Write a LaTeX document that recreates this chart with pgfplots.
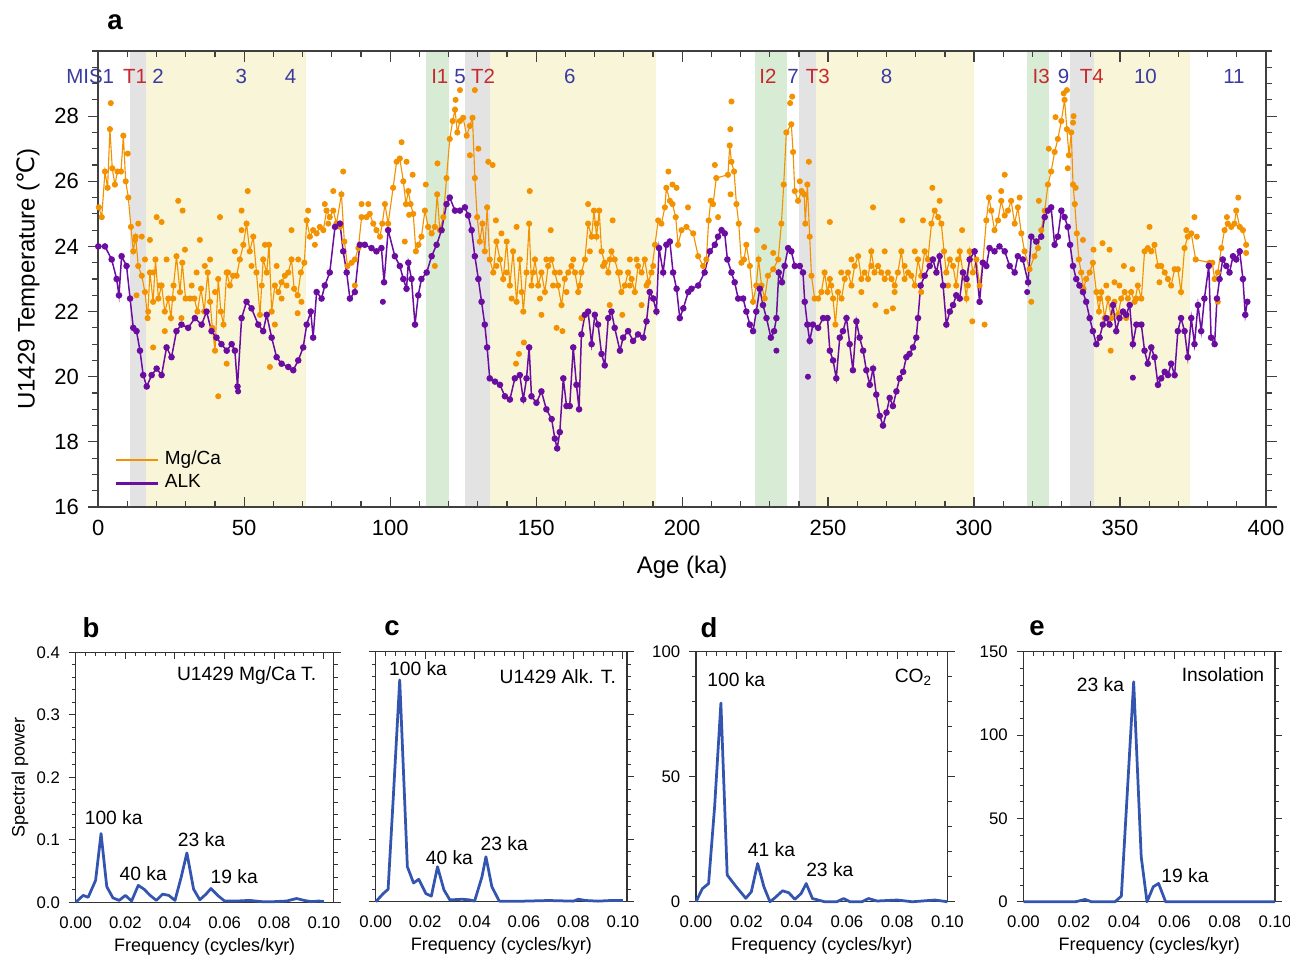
\documentclass[border=0pt]{standalone}
\usepackage{fontspec}
\setmainfont{Liberation Sans}
\newfontfamily\dejavu{DejaVu Sans}
\usepackage{pgfplots}
\pgfplotsset{compat=1.18}

\definecolor{mgca}{RGB}{243,146,0}
\definecolor{alk}{RGB}{106,13,160}
\definecolor{bandY}{RGB}{248,245,217}
\definecolor{bandG}{RGB}{216,236,213}
\definecolor{bandT}{RGB}{227,227,227}
\definecolor{misblue}{RGB}{58,58,160}
\definecolor{misred}{RGB}{200,40,45}
\definecolor{spec}{RGB}{51,85,176}
\newcommand\fs[1]{\fontsize{#1}{#1}\selectfont}

\tikzset{ann/.style={font=\fs{7.7}, inner sep=0pt}}
\pgfplotsset{
  specaxis/.style={
    scale only axis, height=100pt, anchor=south west,
    xtick={0,0.02,0.04,0.06,0.08,0.1}, minor x tick num=4,
    xtick pos=right, xticklabel pos=left, xtick align=inside,
    ytick pos=both, yticklabel pos=left, ytick align=outside, minor y tick num=4,
    major tick length=2.8pt, minor tick length=1.6pt,
    tick style={black!80, line width=0.4pt},
    axis line style={black!80, line width=0.5pt},
    xticklabel style={font=\fs{6.7}, inner ysep=5.6pt},
    /pgf/number format/.cd, fixed, fixed zerofill, precision=2, assume math mode=true,
    /pgfplots/.cd,
    yticklabel style={font=\fs{6.7}},
    xlabel={Frequency (cycles/kyr)},
    xlabel style={font=\fs{7.2}, at={(axis description cs:0.5,0)}, anchor=center, yshift=-17.8pt},
    clip=false,
  },
  specline/.style={spec, line width=1.1pt, line join=round},
}

\begin{document}
\begin{tikzpicture}
\useasboundingbox (0,0) rectangle (516pt,-382.8pt);

% ---------------- panel a
\begin{axis}[
  at={(39.3pt,-202.8pt)}, anchor=south west,
  scale only axis, width=467.1pt, height=182.4pt,
  xmin=0, xmax=400, ymin=16, ymax=30,
  xtick={0,50,...,400}, minor xtick={0,10,...,400},
  ytick={16,18,...,28}, minor ytick={16,16.5,...,30},
  xtick align=inside, ytick align=outside,
  xtick pos=both, ytick pos=both, xticklabel pos=left, yticklabel pos=left,
  major tick length=4.2pt, minor tick length=2.4pt,
  tick style={black!75, line width=0.5pt},
  axis line style={black!75, line width=0.6pt},
  tick label style={font=\fs{8.8}},
  xticklabel style={yshift=-1.8pt},
  /pgf/number format/assume math mode=true,
  xlabel={Age (ka)}, ylabel={U1429 Temperature ({\dejavu ℃})},
  label style={font=\fs{9.6}},
  xlabel style={at={(axis description cs:0.5,0)}, anchor=center, yshift=-24pt},
  ylabel style={at={(axis description cs:0,0.5)}, anchor=center, yshift=28pt},
  clip=false, axis on top,
  legend style={at={(axis cs:5.3,17.1)}, anchor=west, draw=none, fill=none,
    font=\fs{7.6}, row sep=-1.5pt, inner sep=0pt},
  legend cell align=left,
]
% bands
\fill[bandT] (axis cs:10.9,16) rectangle (axis cs:16.3,30);
\fill[bandY] (axis cs:16.3,16) rectangle (axis cs:71.1,30);
\fill[bandG] (axis cs:112.2,16) rectangle (axis cs:120,30);
\fill[bandT] (axis cs:125.6,16) rectangle (axis cs:134.1,30);
\fill[bandY] (axis cs:134.1,16) rectangle (axis cs:191.2,30);
\fill[bandG] (axis cs:224.9,16) rectangle (axis cs:235.9,30);
\fill[bandT] (axis cs:240,16) rectangle (axis cs:245.7,30);
\fill[bandY] (axis cs:245.7,16) rectangle (axis cs:299.9,30);
\fill[bandG] (axis cs:318,16) rectangle (axis cs:325.8,30);
\fill[bandT] (axis cs:332.8,16) rectangle (axis cs:341.2,30);
\fill[bandY] (axis cs:341.2,16) rectangle (axis cs:374.1,30);

% Mg/Ca temperature
\addplot[mgca, line width=0.45pt, mark=*, mark size=1pt, mark options={draw=none, fill=mgca}, forget plot] coordinates {
(0.2,25.2) (1.2,24.9) (2.3,26.3) (3.2,25.8) (4.0,27.6) (4.8,26.4) (5.7,25.9) (6.6,26.3) (7.8,26.3) (8.6,27.4)
(9.4,26.0) (10.3,25.5) (11.2,24.6) (12.0,23.85) (12.8,24.3) (13.7,23.4) (14.9,23.1) (16.0,22.6) (16.9,21.8) (17.7,23.2)
(18.8,22.3) (19.6,23.6) (20.6,22.4) (21.7,22.8) (22.8,22.0) (24.0,22.4) (24.9,21.8) (25.8,22.8) (26.8,23.7) (28.0,22.6)
(28.8,23.5) (29.9,22.4) (31.4,22.4) (32.9,22.4) (34.0,22.0) (35.2,22.7) (36.3,22.0) (37.5,23.2) (38.3,22.3) (39.1,21.5)
(40.0,20.8) (41.1,23.0) (42.0,22.0) (42.9,21.6) (44.0,23.2) (45.1,22.8) (46.2,23.1) (47.4,23.1) (48.5,23.6) (49.7,24.05)
(50.8,24.7) (51.9,23.85) (53.1,24.3) (54.2,23.2) (55.4,21.9) (56.5,23.6) (57.7,23.2) (58.5,24.05) (59.4,22.0) (60.5,22.8)
(61.7,22.6) (62.8,22.9) (63.9,23.1) (65.1,23.2) (66.2,23.6) (67.1,22.7) (68.3,22.5) (69.4,23.2) (70.6,23.5) (71.4,24.8)
(72.5,24.3) (73.6,24.5) (74.8,24.4) (75.9,24.6) (77.1,24.5) (78.2,25.1) (79.3,24.9) (80.5,25.1) (81.6,24.7) (83.3,25.6)
(84.3,24.15) (85.4,23.4) (86.8,23.5) (87.9,23.6) (89.1,23.95) (90.2,24.9) (91.9,24.9) (93.0,25.0) (94.2,24.7) (95.3,24.5)
(96.5,24.3) (97.3,24.7) (98.2,25.3) (99.3,24.7) (101.0,25.8) (102.2,26.6) (103.3,26.7) (104.5,26.0) (105.4,25.3) (106.2,25.7)
(107.0,25.3) (107.9,25.0) (108.8,23.85) (109.7,24.05) (110.7,24.3) (111.9,25.1) (113.0,24.6) (114.2,24.4) (115.3,24.6) (116.1,25.6)
(117.0,24.5) (118.2,24.9) (119.3,26.1) (120.4,27.3) (121.4,27.85) (122.2,28.2) (123.0,27.5) (123.9,27.85) (125.0,27.95) (126.2,27.4)
(127.3,27.7) (128.2,27.95) (129.0,26.1) (129.8,24.9) (130.7,24.15) (131.6,24.7) (132.4,23.85) (133.2,25.2) (134.1,23.6) (135.3,23.2)
(136.4,24.15) (137.6,23.6) (138.7,23.0) (139.9,24.15) (141.0,22.8) (142.1,23.85) (143.3,22.3) (144.4,23.6) (145.6,22.0) (146.7,23.2)
(147.6,24.7) (148.4,22.8) (149.6,23.6) (150.7,22.8) (151.8,23.2) (153.0,22.6) (154.1,23.4) (155.3,23.6) (156.4,23.2) (157.5,22.8)
(158.7,22.2) (159.8,23.0) (161.0,23.2) (162.1,23.4) (163.3,23.2) (164.4,22.6) (165.5,23.2) (166.7,23.6) (167.8,24.7) (169.0,24.3)
(169.8,25.1) (170.7,24.3) (171.6,25.1) (172.4,23.85) (173.5,23.5) (174.7,23.2) (175.8,23.85) (176.9,23.6) (178.1,23.2) (179.2,22.6)
(180.4,22.8) (181.5,23.2) (182.7,23.0) (183.8,22.6) (184.9,23.4) (186.1,23.2) (187.2,23.6) (188.4,22.9) (189.5,23.2) (190.7,24.05)
(191.8,24.8) (192.9,24.7) (194.1,25.2) (194.6,25.8) (195.8,25.4) (196.7,25.3) (197.8,24.9) (198.6,24.05) (199.8,24.5) (201.5,24.6)
(203.8,24.4) (205.5,23.7) (207.2,23.4) (208.3,23.6) (209.1,24.8) (209.8,25.4) (210.6,25.3) (211.7,26.1) (215.7,26.2) (216.3,27.1)
(216.9,26.6) (217.8,26.3) (218.6,25.3) (219.4,24.7) (220.3,23.5) (221.2,23.6) (222.0,24.05) (223.2,23.4) (224.3,22.3) (225.4,22.8)
(226.2,23.6) (227.2,22.8) (228.3,22.4) (229.4,23.1) (231.2,23.3) (232.9,23.6) (234.0,24.7) (234.8,25.9) (235.7,27.5) (237.4,27.75)
(238.0,26.9) (238.6,25.7) (239.7,25.4) (240.9,25.7) (241.8,25.6) (242.2,24.7) (242.9,25.9) (243.7,24.3) (244.3,23.1) (245.4,22.4)
(246.6,22.4) (247.7,22.6) (248.8,23.2) (249.8,22.6) (250.6,23.0) (251.7,22.4) (252.5,21.6) (253.4,22.6) (254.6,22.4) (255.7,23.0)
(256.8,23.2) (258.0,22.8) (259.1,23.4) (260.3,23.7) (261.4,23.0) (262.5,23.2) (263.7,23.0) (264.8,23.85) (265.9,23.2) (267.1,23.4)
(268.2,23.2) (269.4,23.0) (270.5,23.2) (271.7,23.0) (272.8,22.8) (273.9,23.2) (275.1,23.85) (276.2,23.0) (277.4,23.2) (278.5,23.1)
(279.7,22.8) (280.8,23.6) (281.9,23.1) (283.1,23.85) (284.2,23.6) (285.4,24.7) (286.5,25.1) (287.7,24.9) (288.8,24.7) (289.7,23.85)
(290.5,23.2) (291.7,23.6) (292.8,23.4) (293.9,22.8) (295.1,23.85) (296.2,23.2) (297.4,22.4) (298.5,23.85) (299.6,23.2) (300.8,23.6)
(301.9,22.8) (303.0,23.5) (304.2,24.8) (305.1,25.5) (305.9,25.1) (307.0,24.5) (308.2,24.8) (309.3,25.4) (310.5,24.95) (311.6,25.1)
(312.7,25.4) (313.9,24.7) (315.0,25.2) (316.2,24.4) (317.3,23.85) (319.0,23.3) (320.7,23.7) (321.9,23.95) (323.0,24.5) (324.2,25.1)
(325.3,25.9) (326.4,26.3) (327.6,26.9) (328.7,27.3) (329.9,27.85) (331.0,28.5) (331.8,27.6) (332.5,26.8) (333.3,27.5) (333.9,25.9)
(334.5,25.3) (335.2,24.4) (335.9,23.6) (336.7,23.2) (337.5,22.7) (338.4,23.0) (339.6,23.2) (340.7,23.5) (341.9,22.6) (342.8,22.0)
(343.6,22.6) (344.7,21.8) (345.9,22.4) (347.0,21.8) (348.1,22.3) (349.3,21.9) (350.4,22.4) (351.6,22.6) (352.7,22.4) (353.8,22.6)
(355.0,22.3) (356.1,22.8) (357.3,22.4) (358.4,23.85) (359.5,23.95) (360.7,23.85) (361.8,24.05) (363.0,23.4) (364.1,23.4) (365.3,23.2)
(366.4,23.0) (367.5,22.8) (368.7,23.3) (369.8,23.3) (370.9,22.6) (372.1,23.95) (373.2,24.3) (374.4,24.4) (375.9,23.6) (380.7,23.5)
(381.6,23.5) (382.4,23.0) (383.5,23.2) (384.7,23.95) (385.8,24.5) (386.9,24.7) (388.1,24.6) (389.2,24.7) (389.8,25.1) (391.0,24.6)
(392.1,24.5) (393.2,24.05)
};
% Mg/Ca samples off the line
\addplot[mgca, only marks, mark=*, mark size=1pt, mark options={draw=none, fill=mgca}, forget plot] coordinates {
(4.3,28.4) (10.1,26.85) (27.4,25.4) (28.9,25.1) (20.0,24.9) (21.7,24.75) (41.7,24.9) (51.2,25.7) (49.1,25.1) (41.1,19.4)
(34.8,24.2) (83.9,26.3) (92.5,25.3) (58.8,20.3) (18.8,20.9) (22.8,21.4) (44.0,20.4) (68.3,21.95) (60.5,21.6) (13.7,24.7)
(13.1,22.5) (17.7,24.2) (29.7,23.9) (66.2,24.5) (80.5,25.7) (77.6,25.3) (87.9,22.8) (90.2,25.3) (103.9,27.2) (105.6,26.6)
(107.7,26.2) (106.5,24.97) (105.0,24.15) (112.2,25.9) (116.2,26.55) (115.3,23.4) (122.4,28.5) (123.9,28.8) (129.0,28.8) (127.3,26.8)
(130.2,27.0) (133.6,26.6) (135.1,26.5) (136.2,24.8) (147.8,25.7) (155.0,24.5) (151.8,21.9) (157.0,21.5) (159.0,21.4) (145.8,21.05)
(144.1,20.7) (143.1,20.4) (167.8,25.3) (176.2,24.8) (182.1,23.6) (186.1,22.2) (179.5,21.9) (195.3,26.3) (196.7,25.9) (198.1,25.8)
(165.5,21.8) (175.2,22.2) (202.0,25.2) (211.2,26.5) (216.9,28.45) (216.5,27.6) (216.6,25.6) (212.3,24.9) (225.6,24.5) (228.1,23.98)
(231.2,23.8) (237.0,28.4) (237.7,28.6) (243.4,26.6) (240.3,26.0) (250.6,24.75) (265.4,25.2) (275.4,24.8) (285.7,25.8) (288.2,25.4)
(282.5,24.8) (295.9,24.5) (270.0,22.0) (266.2,22.2) (272.2,22.1) (299.4,21.7) (303.6,21.6) (310.5,26.2) (309.3,25.7) (315.6,25.5)
(319.6,22.3) (322.2,25.4) (327.9,27.97) (330.7,28.7) (331.8,28.8) (325.6,27.0) (334.1,28.0) (333.9,27.8) (332.1,26.4) (334.8,25.8)
(337.3,24.2) (340.9,23.9) (344.0,24.1) (346.4,23.9) (346.8,20.8) (348.1,22.9) (351.3,23.4) (354.2,23.3) (360.1,24.6) (363.5,22.9)
(372.7,24.5) (375.5,24.9) (376.3,24.3) (383.5,22.3) (390.5,25.5) (393.2,23.8) (386.6,24.9)
(12.6,24.2) (14.9,24.3) (16.0,23.6) (17.1,22.0) (18.8,23.2) (21.1,22.8) (23.4,23.6) (25.7,22.4) (28.5,21.8) (32.0,22.8)
(33.7,23.2) (36.5,23.4) (38.3,23.6) (40.0,22.6) (44.5,23.2) (46.8,23.85) (49.1,24.5) (52.5,23.4) (56.0,22.8) (57.1,24.05)
(61.1,23.4) (62.8,22.4) (64.5,22.8) (68.5,23.6) (69.6,22.3) (71.9,25.1) (74.2,24.05) (78.8,24.7) (82.8,24.6)
(136.4,23.4) (138.1,24.4) (139.9,23.2) (141.6,22.4) (143.3,24.6) (145.0,22.6) (149.0,23.2) (151.3,22.4) (153.5,23.6) (155.8,22.8)
(158.1,23.2) (160.4,22.6) (162.7,23.6) (165.0,22.8) (168.4,23.85) (170.7,24.7) (172.9,23.4) (175.2,23.6) (178.7,23.2) (182.1,22.8)
(184.4,23.6) (187.8,22.8) (190.1,23.4)
(251.1,22.8) (254.5,23.2) (258.0,23.6) (261.4,22.6) (264.8,23.4) (269.4,23.85) (272.8,22.6) (276.2,23.4) (279.7,23.85) (281.9,22.6)
(291.1,22.8) (294.5,23.6) (297.9,22.8) (343.0,22.4) (345.3,22.8) (349.8,22.8) (352.1,21.8) (355.6,22.4)
};
% alkenone temperature
\addplot[alk, line width=0.6pt, mark=*, mark size=1pt, mark options={draw=none, fill=alk}, forget plot] coordinates {
(0,24.0) (2.3,24.0) (4.6,23.6) (6.3,23.0) (7.1,22.5) (8.0,23.7) (9.7,23.4) (10.9,22.4) (12.0,21.5) (13.1,21.4)
(14.3,20.8) (15.4,20.05) (16.6,19.7) (18.3,20.05) (20.0,20.25) (21.7,20.05) (23.4,20.9) (25.1,20.6) (26.8,21.4) (28.5,21.6)
(30.8,21.5) (33.1,21.8) (35.4,21.6) (37.1,22.0) (38.8,21.4) (40.5,21.2) (42.2,21.0) (44.0,20.8) (45.7,21.0) (46.8,20.8)
(47.7,19.7) (49.1,21.8) (50.8,22.3) (52.5,22.1) (54.8,21.6) (56.5,21.4) (57.7,21.9) (59.4,21.2) (61.1,20.6) (62.8,20.4)
(65.1,20.3) (66.8,20.2) (68.5,20.5) (70.2,20.9) (71.4,21.6) (72.8,22.0) (73.6,21.2) (74.8,22.6) (76.5,22.4) (77.6,22.8)
(79.3,23.2) (81.1,24.6) (82.8,24.7) (83.9,23.85) (85.1,23.2) (86.2,22.4) (87.9,22.6) (89.6,24.05) (91.3,24.05) (93.6,23.95)
(95.3,23.85) (97.0,23.95) (97.9,22.9) (99.3,24.5) (101.6,23.7) (103.3,23.4) (104.5,23.0) (105.6,22.7) (106.2,23.5) (107.3,23.0)
(108.5,21.6) (109.6,22.5) (110.7,23.0) (112.5,23.2) (114.2,23.7) (115.9,24.05) (117.6,24.5) (119.3,25.3) (120.4,25.5) (122.2,25.1)
(123.9,25.1) (125.6,25.2) (126.7,24.95) (127.9,24.5) (129.0,23.7) (130.2,23.0) (131.3,22.3) (132.4,21.6) (133.2,20.9) (134.1,19.95)
(135.9,19.85) (137.6,19.75) (139.3,19.4) (141.0,19.3) (142.7,19.95) (144.4,20.05) (145.6,19.3) (146.7,19.95) (147.6,20.9) (148.4,19.4)
(150.1,19.2) (151.8,19.55) (153.5,19.0) (155.3,18.7) (156.4,18.1) (157.2,17.8) (158.1,18.3) (159.3,19.95) (160.4,19.1) (161.5,19.1)
(162.7,20.9) (163.8,19.75) (164.7,19.0) (165.5,21.3) (166.7,21.9) (167.8,22.0) (169.0,21.0) (170.1,21.9) (171.2,21.6) (172.4,20.7)
(173.5,20.35) (174.7,21.8) (175.8,22.0) (176.9,21.5) (178.7,20.8) (179.8,21.2) (181.5,21.4) (183.2,21.1) (184.9,21.3) (186.7,21.2)
(187.8,21.7) (188.9,22.6) (190.1,22.4) (191.2,22.0) (192.1,23.95) (193.5,23.2) (194.6,24.05) (195.8,24.15) (196.9,23.2) (198.1,22.7)
(199.2,21.8) (200.4,22.1) (202.1,22.6) (203.2,22.7) (205.5,22.8) (207.7,23.2) (209.5,23.85) (211.2,24.05) (212.3,24.3) (213.5,24.5)
(214.6,24.4) (215.5,23.6) (216.9,23.2) (218.0,22.9) (219.2,22.4) (220.9,22.4) (222.0,22.0) (223.2,21.6) (224.3,21.4) (225.4,22.0)
(226.6,22.7) (227.7,22.2) (228.9,21.8) (230.4,21.2) (231.5,21.4) (232.3,21.8) (233.1,23.2) (234.2,22.9) (235.1,23.4) (236.3,23.95)
(237.4,23.85) (238.6,23.4) (240.3,23.4) (241.4,23.2) (242.0,22.3) (242.9,21.6) (243.7,21.1) (244.8,21.6) (246.6,21.5) (248.3,21.8)
(249.8,21.8) (250.6,20.8) (251.7,20.5) (252.8,19.95) (254.0,21.2) (255.1,21.4) (256.3,21.8) (257.4,21.0) (258.5,20.2) (259.7,21.7)
(260.8,21.2) (262.0,20.8) (263.1,20.2) (264.3,19.75) (265.4,20.25) (266.5,19.45) (267.7,18.8) (268.8,18.5) (270.0,18.9) (271.1,19.35)
(272.2,19.1) (273.4,19.55) (274.5,19.95) (275.7,20.15) (276.8,20.6) (277.9,20.7) (279.1,20.9) (280.2,21.2) (280.8,21.8) (281.7,22.8)
(283.1,23.1) (284.8,23.4) (285.9,23.6) (287.1,23.2) (288.2,23.7) (289.4,22.8) (290.5,21.6) (291.7,22.0) (292.8,22.2) (293.9,22.5)
(295.1,22.4) (296.2,23.2) (297.4,23.0) (298.5,23.6) (300.2,23.85) (301.9,22.3) (303.0,23.5) (304.2,23.4) (305.3,23.95) (307.0,23.85)
(308.7,24.0) (310.5,23.85) (312.2,23.4) (313.9,23.2) (315.0,23.7) (316.7,23.6) (318.5,22.9) (319.6,24.3) (321.3,24.15) (323.0,24.3)
(324.2,24.9) (325.3,25.1) (326.4,25.2) (327.6,24.05) (328.7,24.3) (329.9,25.1) (331.0,24.9) (332.1,24.6) (332.9,24.05) (333.9,23.4)
(335.0,23.0) (336.1,22.8) (337.3,22.6) (338.4,22.3) (339.6,21.8) (340.7,21.4) (341.9,21.0) (343.0,21.2) (344.1,21.6) (345.3,21.8)
(346.4,21.6) (347.6,22.2) (348.7,21.4) (349.8,21.8) (351.0,22.0) (352.1,21.9) (353.3,22.2) (354.4,21.0) (355.6,21.6) (357.3,21.6)
(358.4,20.8) (359.5,20.4) (360.7,20.9) (361.8,20.6) (363.0,19.75) (364.1,19.95) (365.3,20.15) (366.4,20.05) (367.5,20.4) (368.7,20.05)
(369.8,21.4) (370.9,21.8) (372.1,21.4) (373.2,20.6) (374.4,21.8) (375.5,21.0) (376.7,22.2) (377.8,21.4) (378.9,22.4) (380.4,23.4)
(381.2,21.2) (382.4,21.0) (383.2,22.4) (384.1,23.0) (385.2,23.6) (386.4,23.4) (387.5,23.2) (388.7,23.7) (389.8,23.6) (391.0,23.85)
(392.1,23.0) (392.9,21.9) (393.6,22.3)
};
\addplot[alk, only marks, mark=*, mark size=1pt, mark options={draw=none, fill=alk}, forget plot] coordinates {
(97.5,22.3) (243.1,20.0) (354.4,19.97) (318.2,22.6) (232.3,20.8) (47.9,19.55)
};
\addlegendimage{color=mgca, line width=0.7pt}
\addlegendentry{Mg/Ca}
\addlegendimage{color=alk, line width=1.2pt}
\addlegendentry{ALK}

% stage and termination labels
\begin{scope}[every node/.style={font=\fs{8.2}, inner sep=0pt}]
\node[misblue, anchor=east] at (axis cs:5.6,29.22) {MIS1};
\node[misred] at (axis cs:12.6,29.22) {T1};
\node[misblue] at (axis cs:20.5,29.22) {2};
\node[misblue] at (axis cs:49,29.22) {3};
\node[misblue] at (axis cs:65.9,29.22) {4};
\node[misred] at (axis cs:117,29.22) {I1};
\node[misblue] at (axis cs:123.9,29.22) {5};
\node[misred] at (axis cs:131.8,29.22) {T2};
\node[misblue] at (axis cs:161.5,29.22) {6};
\node[misred] at (axis cs:229.4,29.22) {I2};
\node[misblue] at (axis cs:238,29.22) {7};
\node[misred] at (axis cs:246.5,29.22) {T3};
\node[misblue] at (axis cs:270,29.22) {8};
\node[misred] at (axis cs:323,29.22) {I3};
\node[misblue] at (axis cs:330.7,29.22) {9};
\node[misred] at (axis cs:340.3,29.22) {T4};
\node[misblue] at (axis cs:358.7,29.22) {10};
\node[misblue] at (axis cs:389,29.22) {11};
\end{scope}
\end{axis}

% ---------------- panel b
\begin{axis}[specaxis, at={(30.3pt,-360.9pt)}, width=103.2pt,
  xmin=0, xmax=0.104, ymin=0, ymax=0.4, ytick={0,0.1,0.2,0.3,0.4},
  yticklabel style={/pgf/number format/.cd, fixed, fixed zerofill, precision=1},
  ylabel={Spectral power},
  ylabel style={font=\fs{7.2}, at={(axis description cs:0,0.5)}, anchor=center, yshift=22.3pt}]
\addplot[specline] coordinates {
(0,0.0) (0.003,0.011) (0.005,0.008) (0.008,0.035) (0.0102,0.11) (0.0125,0.025) (0.015,0.007) (0.0175,0.003)
(0.020,0.011) (0.0225,0.002) (0.0252,0.027) (0.0275,0.021) (0.030,0.011) (0.0325,0.003) (0.035,0.013) (0.0375,0.011)
(0.040,0.003) (0.0425,0.04) (0.0448,0.079) (0.0475,0.021) (0.050,0.004) (0.0525,0.013) (0.0545,0.022) (0.0575,0.010)
(0.060,0.002) (0.065,0.002) (0.070,0.003) (0.075,0.001) (0.080,0.001) (0.085,0.002) (0.089,0.006) (0.092,0.003)
(0.095,0.001) (0.098,0.002) (0.100,0.001)
};
\node[ann, anchor=east] at (axis cs:0.0971,0.362) {U1429 Mg/Ca T.};
\node[ann] at (axis cs:0.0153,0.135) {100 ka};
\node[ann] at (axis cs:0.0272,0.0455) {40 ka};
\node[ann] at (axis cs:0.0507,0.101) {23 ka};
\node[ann] at (axis cs:0.0639,0.0409) {19 ka};
\end{axis}

% ---------------- panel c
\begin{axis}[specaxis, at={(150.3pt,-360.7pt)}, width=100.5pt,
  xmin=0, xmax=0.1017, ymin=0, ymax=0.4, ytick={0,0.1,0.2,0.3,0.4}, yticklabels={}]
\addplot[specline] coordinates {
(0,0) (0.003,0.013) (0.005,0.02) (0.007,0.16) (0.0097,0.355) (0.0128,0.056) (0.0153,0.030) (0.0174,0.036)
(0.0203,0.013) (0.0225,0.009) (0.025,0.056) (0.0276,0.019) (0.030,0.003) (0.035,0.004) (0.038,0.003) (0.040,0.001)
(0.043,0.04) (0.0446,0.072) (0.047,0.024) (0.050,0.001) (0.060,0.001) (0.070,0.002) (0.080,0.001) (0.082,0.004)
(0.085,0.002) (0.090,0.001) (0.095,0.002) (0.100,0.002)
};
\node[ann] at (axis cs:0.0171,0.373) {100 ka};
\node[ann, anchor=east] at (axis cs:0.0974,0.36) {U1429 Alk. T.};
\node[ann] at (axis cs:0.0298,0.071) {40 ka};
\node[ann] at (axis cs:0.052,0.093) {23 ka};
\end{axis}

% ---------------- panel d
\begin{axis}[specaxis, at={(278.4pt,-360.7pt)}, width=100.6pt,
  xmin=0, xmax=0.1, ymin=0, ymax=100, ytick={0,50,100},
  yticklabel style={/pgf/number format/.cd, precision=0, fixed zerofill=false}]
\addplot[specline] coordinates {
(0,0) (0.0025,5.2) (0.005,7.3) (0.0074,38) (0.0099,79.5) (0.0124,10.7) (0.016,6) (0.0198,1.4)
(0.022,4) (0.0245,15.3) (0.027,6) (0.0294,0) (0.0314,1.6) (0.0344,4.4) (0.0369,3.6) (0.0393,1)
(0.0418,3.3) (0.0438,7.3) (0.0463,1.3) (0.0512,0) (0.056,0) (0.0587,1.3) (0.0612,0) (0.066,0)
(0.0686,1.3) (0.072,0.3) (0.080,0.7) (0.086,0) (0.095,0.7) (0.100,0)
};
\node[ann] at (axis cs:0.016,88.7) {100 ka};
\node[ann, anchor=east] at (axis cs:0.0942,89.8) {CO\textsubscript{2}};
\node[ann] at (axis cs:0.030,21) {41 ka};
\node[ann] at (axis cs:0.0532,13) {23 ka};
\end{axis}

% ---------------- panel e
\begin{axis}[specaxis, at={(409.4pt,-360.7pt)}, width=100.6pt,
  xmin=0, xmax=0.1, ymin=0, ymax=150, ytick={0,50,100,150},
  yticklabel style={/pgf/number format/.cd, precision=0, fixed zerofill=false}]
\addplot[specline] coordinates {
(0,0) (0.0207,0) (0.0245,1.4) (0.027,0) (0.0364,0) (0.0389,3.4) (0.0438,132) (0.0468,27)
(0.0491,0) (0.0516,9) (0.0537,11) (0.0565,0) (0.100,0)
};
\node[ann, anchor=east] at (axis cs:0.0959,136) {Insolation};
\node[ann] at (axis cs:0.0306,130) {23 ka};
\node[ann] at (axis cs:0.0642,15.8) {19 ka};
\end{axis}

% panel letters
\begin{scope}[every node/.style={font=\bfseries\fs{11}, inner sep=0pt}]
\node at (46pt,-8.8pt) {a};
\node at (36.4pt,-251.2pt) {b};
\node at (156.8pt,-251.2pt) {c};
\node at (283.6pt,-251.2pt) {d};
\node at (414.8pt,-251.2pt) {e};
\end{scope}
\end{tikzpicture}
\end{document}
